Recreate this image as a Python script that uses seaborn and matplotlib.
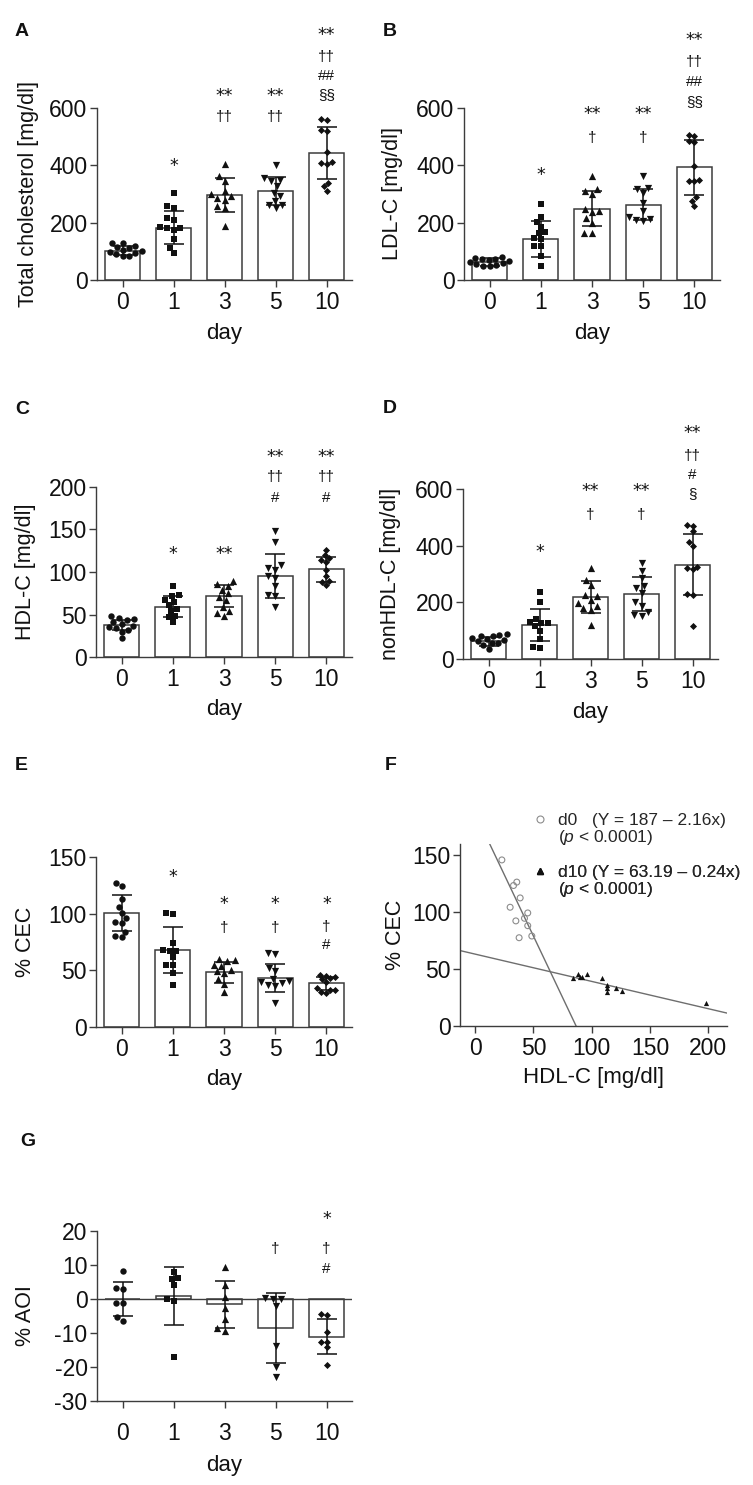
import numpy as np
import matplotlib
matplotlib.use("Agg")
import matplotlib.pyplot as plt
import seaborn as sns
from matplotlib.lines import Line2D

sns.set_theme(style="ticks")
plt.rcParams['font.family'] = ['Liberation Sans', 'DejaVu Sans']
plt.rcParams['axes.unicode_minus'] = False
plt.rcParams['mathtext.fontset'] = 'custom'
plt.rcParams['mathtext.it'] = 'Liberation Sans:italic'
plt.rcParams['mathtext.rm'] = 'Liberation Sans'

# ---------------- data ----------------
days = ["0", "1", "3", "5", "10"]

# A: total cholesterol
tc_d0 = [130, 128, 118, 115, 110, 105, 100, 98, 95, 90, 85, 82]
tc_d1 = [305, 258, 250, 216, 210, 186, 182, 176, 142, 112, 93, 180]
tc_d3 = [405, 362, 345, 310, 300, 292, 285, 278, 258, 252, 190]
tc_d5 = [400, 357, 350, 345, 328, 305, 292, 275, 262, 250, 260]
tc_d10 = [560, 558, 525, 520, 445, 410, 408, 405, 340, 328, 312]
tc_mean = [102, 183, 296, 311, 443]
tc_sd = [16, 58, 60, 49, 90]
tc_sig = [[], ["*"], ["**", "††"], ["**", "††"], ["**", "††", "##", "§§"]]
tc_sig_y = [[], [414], [658, 572], [658, 572], [872, 781, 713, 647]]

# B: LDL-C
ldl_d0 = [80, 78, 75, 72, 70, 66, 62, 58, 55, 52, 50, 48]
ldl_d1 = [266, 221, 204, 186, 169, 163, 146, 142, 119, 117, 82, 50]
ldl_d3 = [364, 318, 310, 300, 248, 240, 236, 216, 200, 165, 163]
ldl_d5 = [362, 322, 318, 303, 268, 240, 220, 212, 205, 210]
ldl_d10 = [507, 503, 485, 480, 396, 350, 346, 344, 288, 275, 259]
ldl_mean = [64, 143, 249, 263, 394]
ldl_sd = [14, 63, 60, 55, 96]
ldl_sig = [[], ["*"], ["**", "†"], ["**", "†"], ["**", "††", "##", "§§"]]
ldl_sig_y = [[], [385], [597, 499], [597, 499], [853, 763, 693, 623]]

# C: HDL-C
hdl_d0 = [48, 46, 45, 43, 41, 39, 37, 35, 34, 32, 22, 30]
hdl_d1 = [84, 73, 72, 67, 65, 61, 57, 54, 48, 47, 41]
hdl_d3 = [90, 86, 84, 79, 75, 71, 67, 59, 54, 52, 48]
hdl_d5 = [148, 135, 108, 105, 102, 95, 93, 83, 73, 72, 59]
hdl_d10 = [126, 120, 117, 114, 112, 102, 95, 90, 88, 85]
hdl_mean = [38, 59, 72, 95, 103]
hdl_sd = [6, 12.5, 13, 26, 14.5]
hdl_sig = [[], ["*"], ["**"], ["**", "††", "#"], ["**", "††", "#"]]
hdl_sig_y = [[], [127], [127], [241, 212, 188], [241, 212, 188]]

# D: nonHDL-C
non_d0 = [88, 85, 82, 80, 75, 70, 68, 62, 58, 55, 50, 35]
non_d1 = [235, 200, 142, 130, 128, 126, 115, 98, 72, 40, 42]
non_d3 = [321, 280, 260, 227, 221, 210, 198, 186, 180, 174, 121]
non_d5 = [339, 312, 286, 258, 252, 234, 200, 186, 156, 151, 165]
non_d10 = [474, 471, 452, 414, 400, 326, 322, 318, 228, 225, 118]
non_mean = [62, 121, 219, 231, 333]
non_sd = [17, 56, 57, 60, 108]
non_sig = [[], ["*"], ["**", "†"], ["**", "†"], ["**", "††", "#", "§"]]
non_sig_y = [[], [394], [609, 509], [609, 509], [815, 718, 653, 584]]

# E: % CEC
cec_d0 = [127, 124, 113, 106, 101, 96, 93, 92, 84, 80, 79]
cec_d1 = [101, 100, 74, 68, 67, 67, 62, 55, 55, 48, 37]
cec_d3 = [60, 59, 58, 55, 54, 50, 49, 48, 42, 38, 31]
cec_d5 = [65, 64, 52, 49, 42, 41, 40, 39, 37, 36, 21]
cec_d10 = [46, 45, 44, 43, 42, 40, 34, 33, 33, 31, 30]
cec_mean = [100.6, 67.9, 48.2, 43.2, 38.7]
cec_sd = [16, 20, 9, 12.5, 5.7]
cec_sig = [[], ["*"], ["*", "†"], ["*", "†"], ["*", "†", "#"]]
cec_sig_y = [[], [137], [112.6, 88], [112.6, 88], [112.6, 88.5, 72.5]]

# F: % CEC vs HDL-C
f_d0_hdl = [22.9, 32.9, 35.7, 38.6, 30.0, 45.1, 42.3, 34.9, 45.1, 48.6, 37.7]
f_d0_cec = [146, 123.5, 126.5, 112.6, 104.4, 99.4, 94.7, 92.4, 88.2, 79.1, 77.6]
f_d10_hdl = [84.3, 88.6, 90.0, 91.4, 95.7, 108.6, 112.9, 113.4, 113.4, 120.6, 126.3, 197.7]
f_d10_cec = [42, 45.9, 42.9, 42.9, 45.9, 42, 36, 33, 30, 33, 31, 19.8]
fit_d0_intercept, fit_d0_slope = 187, -2.16
fit_d10_intercept, fit_d10_slope = 63.19, -0.24

# G: % AOI
aoi_d0 = [8.3, 3.3, 2.8, -1.1, -1.3, -5.2, -6.4]
aoi_d1 = [7.8, 6.3, 5.9, 4.1, 0.0, -0.5, -17.2]
aoi_d3 = [9.5, 4.0, 0.5, -2.7, -5.9, -8.6, -9.3]
aoi_d5 = [0.3, 0.0, 0.0, -2.0, -13.7, -19.9, -23.0]
aoi_d10 = [-4.5, -4.7, -9.8, -12.7, -12.7, -14.2, -19.4]
aoi_mean = [0, 0.9, -1.6, -8.4, -11.1]
aoi_sd = [5.1, 8.6, 7.0, 10.3, 5.2]
aoi_sig = [[], [], [], ["†"], ["*", "†", "#"]]
aoi_sig_y = [[], [], [], [15], [25, 15, 9]]

# ---------------- style ----------------
INK = "#111111"
AXC = "#3c3c3c"
GRAY = "#6e6e6e"
markers = ["o", "s", "^", "v", "D"]
msizes = [4.6, 4.6, 5.2, 5.2, 3.6]
TICK_FS = 16.5
LAB_FS = 15.5
XLAB_FS = 16
ANN_FS = 11
STAR_FS = 12.5

W, H = 753, 1485
fig = plt.figure(figsize=(W / 100, H / 100), dpi=100)
fig.patch.set_facecolor("white")


def add_axes_px(l, r, top, bottom):
    return fig.add_axes([l / W, 1 - bottom / H, (r - l) / W, (bottom - top) / H])


def style(ax, ylim, yticks, ylabel, xlabel, ylab_x, xlab_px, xpad, height):
    ax.set_ylim(*ylim)
    ax.set_yticks(yticks)
    for s in ["top", "right"]:
        ax.spines[s].set_visible(False)
    for s in ["left", "bottom"]:
        ax.spines[s].set_color(AXC)
        ax.spines[s].set_linewidth(1.0)
    ax.tick_params(axis="both", direction="out", length=4.8, width=1.0,
                   color=AXC, labelsize=TICK_FS, labelcolor=INK)
    ax.tick_params(axis="x", pad=xpad)
    ax.tick_params(axis="y", pad=2)
    ax.set_ylabel(ylabel, fontsize=LAB_FS, color=INK)
    ax.yaxis.set_label_coords(ylab_x, 0.5)
    ax.yaxis.label.set_va("center")
    ax.set_xlabel(xlabel, fontsize=XLAB_FS, color=INK)
    ax.xaxis.set_label_coords(0.5, -xlab_px / height)
    ax.xaxis.label.set_va("center")
    ax.set_facecolor("none")


def bar_panel(box, groups, means, sds, sig, sig_y, ylim, yticks, ylabel,
              ylab_x, xpad=3.0, xlab_px=53, zero_line=False):
    l, r, top, bottom = box
    ax = add_axes_px(l, r, top, bottom)
    sns.barplot(x=days, y=means, order=days, color="white", edgecolor=AXC,
                linewidth=1.1, width=0.69, errorbar=None, ax=ax, zorder=1)
    for i, (d, vals) in enumerate(zip(days, groups)):
        sns.swarmplot(x=[d] * len(vals), y=vals, order=days, marker=markers[i],
                      color=INK, size=msizes[i], ax=ax, zorder=3, linewidth=0)
    ax.errorbar(np.arange(len(days)), means, yerr=sds, fmt="none", ecolor=INK,
                elinewidth=1.1, capsize=7.5, capthick=1.1, zorder=4)
    for i, (texts, ys) in enumerate(zip(sig, sig_y)):
        for t, yv in zip(texts, ys):
            if "*" in t:
                fs, c, fam = STAR_FS, 0.575, ["DejaVu Sans"]
            else:
                fs, c, fam = ANN_FS, 0.3, ["Liberation Sans", "DejaVu Sans"]
            ax.annotate(t, xy=(i, yv), xytext=(0, -c * fs),
                        textcoords="offset points", ha="center", va="baseline",
                        fontsize=fs, family=fam, color=INK, annotation_clip=False)
    if zero_line:
        ax.axhline(0, color=AXC, linewidth=1.0, zorder=2)
    ax.set_xlim(-0.5, 4.5)
    style(ax, ylim, yticks, ylabel, "day", ylab_x, xlab_px, xpad, bottom - top)
    return ax


# A
bar_panel((97, 352, 108, 280), [tc_d0, tc_d1, tc_d3, tc_d5, tc_d10], tc_mean, tc_sd,
          tc_sig, tc_sig_y, (0, 600), [0, 200, 400, 600], "Total cholesterol [mg/dl]", -0.267)
# B
bar_panel((464, 720, 108, 280), [ldl_d0, ldl_d1, ldl_d3, ldl_d5, ldl_d10], ldl_mean, ldl_sd,
          ldl_sig, ldl_sig_y, (0, 600), [0, 200, 400, 600], "LDL-C [mg/dl]", -0.281)
# C
bar_panel((96, 352, 487, 657), [hdl_d0, hdl_d1, hdl_d3, hdl_d5, hdl_d10], hdl_mean, hdl_sd,
          hdl_sig, hdl_sig_y, (0, 200), [0, 50, 100, 150, 200], "HDL-C [mg/dl]", -0.277)
# D
bar_panel((463, 718, 489, 659), [non_d0, non_d1, non_d3, non_d5, non_d10], non_mean, non_sd,
          non_sig, non_sig_y, (0, 600), [0, 200, 400, 600], "nonHDL-C [mg/dl]", -0.286)
# E
bar_panel((96, 352, 857, 1027), [cec_d0, cec_d1, cec_d3, cec_d5, cec_d10], cec_mean, cec_sd,
          cec_sig, cec_sig_y, (0, 150), [0, 50, 100, 150], "% CEC", -0.277)
# G
bar_panel((97, 352, 1231, 1401), [aoi_d0, aoi_d1, aoi_d3, aoi_d5, aoi_d10], aoi_mean, aoi_sd,
          aoi_sig, aoi_sig_y, (-30, 20), [-30, -20, -10, 0, 10, 20], "% AOI", -0.282,
          xpad=10, xlab_px=64, zero_line=True)

# F
axF = add_axes_px(460, 727, 844, 1026)
xline = np.linspace(-13, 216, 300)
sns.lineplot(x=xline, y=fit_d0_intercept + fit_d0_slope * xline, color=GRAY,
             linewidth=1.0, ax=axF, zorder=2)
sns.lineplot(x=xline, y=fit_d10_intercept + fit_d10_slope * xline, color=GRAY,
             linewidth=1.0, ax=axF, zorder=2)
sns.scatterplot(x=f_d0_hdl, y=f_d0_cec, marker="o", facecolors="none",
                edgecolor="#8c8c8c", linewidth=0.8, s=18, ax=axF, zorder=3)
sns.scatterplot(x=f_d10_hdl, y=f_d10_cec, marker="^", color=INK, edgecolor=INK,
                linewidth=0, s=14, ax=axF, zorder=3)
axF.set_xlim(-13, 216)
axF.set_xticks([0, 50, 100, 150, 200])
style(axF, (0, 160), [0, 50, 100, 150], "% CEC", "HDL-C [mg/dl]", -0.243, 52, 3.0, 182)

blank = Line2D([], [], linestyle="none")
h0 = Line2D([], [], marker="o", linestyle="none", markerfacecolor="none",
            markeredgecolor="#8c8c8c", markersize=5, markeredgewidth=0.8)
h10 = Line2D([], [], marker="^", linestyle="none", color=INK, markersize=4)
lab0 = f"d0   (Y = {fit_d0_intercept:g} \u2013 {abs(fit_d0_slope):.2f}x)"
lab10 = f"d10 (Y = {fit_d10_intercept:.2f} \u2013 {abs(fit_d10_slope):.2f}x)"
plab = r"($\mathit{p}$ < 0.0001)"
leg_kw = dict(loc="upper left", bbox_transform=fig.transFigure, frameon=False,
              fontsize=12.5, handlelength=1.0, handletextpad=0.55, labelspacing=0.0,
              borderpad=0, borderaxespad=0)
leg1 = axF.legend([h0, blank], [lab0, plab], bbox_to_anchor=(531 / W, 1 - 813 / H), **leg_kw)
axF.add_artist(leg1)
leg2 = axF.legend([h10, blank], [lab10, plab], bbox_to_anchor=(531 / W, 1 - 865 / H), **leg_kw)
axF.add_artist(leg2)

# panel letters
for letter, (px, py) in zip("ABCDEFG", [(15, 31), (383, 31), (15, 410), (383, 409),
                                        (15, 766), (385, 765), (20, 1141)]):
    fig.text(px / W, 1 - py / H, letter, fontsize=14, fontweight="bold",
             ha="left", va="center", color=INK)

fig.savefig("out.png", dpi=100, facecolor="white")
